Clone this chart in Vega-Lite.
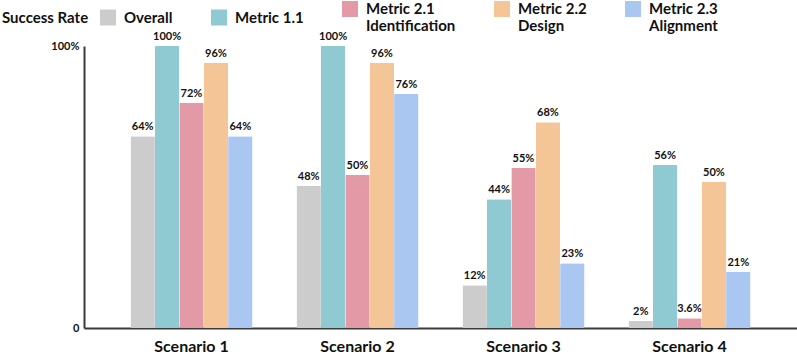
{
  "$schema": "https://vega.github.io/schema/vega-lite/v6.json",
  "width": 713,
  "height": 282,
  "autosize": {"type": "none"},
  "padding": {"left": 84, "top": 46, "right": 0, "bottom": 30},
  "background": "white",
  "config": {
    "view": {"stroke": null},
    "font": "Lato"
  },
  "data": {
    "values": [
      {"scenario": "Scenario 1", "metric": "Overall", "value": 68, "label": "64%"},
      {"scenario": "Scenario 1", "metric": "Metric 1.1", "value": 100, "label": "100%"},
      {"scenario": "Scenario 1", "metric": "Metric 2.1|Identification", "value": 79.8, "label": "72%"},
      {"scenario": "Scenario 1", "metric": "Metric 2.2|Design", "value": 94, "label": "96%"},
      {"scenario": "Scenario 1", "metric": "Metric 2.3|Alignment", "value": 68, "label": "64%"},
      {"scenario": "Scenario 2", "metric": "Overall", "value": 50.4, "label": "48%"},
      {"scenario": "Scenario 2", "metric": "Metric 1.1", "value": 100, "label": "100%"},
      {"scenario": "Scenario 2", "metric": "Metric 2.1|Identification", "value": 54.3, "label": "50%"},
      {"scenario": "Scenario 2", "metric": "Metric 2.2|Design", "value": 94, "label": "96%"},
      {"scenario": "Scenario 2", "metric": "Metric 2.3|Alignment", "value": 83, "label": "76%"},
      {"scenario": "Scenario 3", "metric": "Overall", "value": 15.2, "label": "12%"},
      {"scenario": "Scenario 3", "metric": "Metric 1.1", "value": 45.7, "label": "44%"},
      {"scenario": "Scenario 3", "metric": "Metric 2.1|Identification", "value": 56.7, "label": "55%"},
      {"scenario": "Scenario 3", "metric": "Metric 2.2|Design", "value": 73, "label": "68%"},
      {"scenario": "Scenario 3", "metric": "Metric 2.3|Alignment", "value": 23, "label": "23%"},
      {"scenario": "Scenario 4", "metric": "Overall", "value": 2.5, "label": "2%"},
      {"scenario": "Scenario 4", "metric": "Metric 1.1", "value": 57.8, "label": "56%"},
      {"scenario": "Scenario 4", "metric": "Metric 2.1|Identification", "value": 3.5, "label": "3.6%"},
      {"scenario": "Scenario 4", "metric": "Metric 2.2|Design", "value": 51.8, "label": "50%"},
      {"scenario": "Scenario 4", "metric": "Metric 2.3|Alignment", "value": 19.9, "label": "21%"}
    ]
  },
  "encoding": {
    "x": {
      "field": "scenario",
      "type": "nominal",
      "sort": null,
      "scale": {"paddingInner": 0.265, "paddingOuter": 0.28},
      "axis": {
        "title": null,
        "labelAngle": 0,
        "labelFont": "Lato",
        "labelFontWeight": "bold",
        "labelFontSize": 16,
        "labelColor": "#111",
        "labelPadding": 10,
        "ticks": false,
        "domainColor": "#3a3a3a",
        "domainWidth": 2
      }
    },
    "xOffset": {
      "field": "metric",
      "type": "nominal",
      "sort": ["Overall", "Metric 1.1", "Metric 2.1|Identification", "Metric 2.2|Design", "Metric 2.3|Alignment"],
      "scale": {"paddingInner": 0, "paddingOuter": 0}
    },
    "y": {
      "field": "value",
      "type": "quantitative",
      "scale": {"domain": [0, 100], "nice": false},
      "axis": {
        "title": null,
        "values": [0, 100],
        "labelExpr": "datum.value == 0 ? '0' : '100%'",
        "labelFont": "Lato",
        "labelFontWeight": "bold",
        "labelFontSize": 11,
        "labelColor": "#111",
        "labelPadding": 5,
        "ticks": false,
        "grid": false,
        "domainColor": "#3a3a3a",
        "domainWidth": 2
      }
    }
  },
  "layer": [
    {
      "mark": {"type": "bar", "cornerRadiusTopLeft": 1, "cornerRadiusTopRight": 1},
      "encoding": {
        "color": {
          "field": "metric",
          "type": "nominal",
          "scale": {
            "domain": ["Overall", "Metric 1.1", "Metric 2.1|Identification", "Metric 2.2|Design", "Metric 2.3|Alignment"],
            "range": ["#cccccc", "#8fcad2", "#e49aa6", "#f4c597", "#aac7f2"]
          },
          "legend": {
            "title": "Success Rate",
            "orient": "none",
            "legendX": -82,
            "legendY": -45,
            "direction": "horizontal",
            "titleOrient": "left",
            "titleFont": "Lato",
            "titleFontSize": 15,
            "titleFontWeight": "bold",
            "titleColor": "#111",
            "titlePadding": 11,
            "titleBaseline": "middle",
            "labelExpr": "split(datum.label, '|')",
            "labelFont": "Lato",
            "labelFontSize": 15,
            "labelFontWeight": "bold",
            "labelColor": "#111",
            "labelOffset": 8,
            "labelLimit": 200,
            "symbolType": "square",
            "symbolSize": 256,
            "symbolStrokeWidth": 0,
            "symbolOpacity": 1,
            "columnPadding": 38
          }
        }
      }
    },
    {
      "mark": {
        "type": "text",
        "baseline": "bottom",
        "dy": -4,
        "font": "Lato",
        "fontWeight": "bold",
        "fontSize": 11,
        "color": "#111"
      },
      "encoding": {
        "text": {"field": "label"}
      }
    }
  ]
}
